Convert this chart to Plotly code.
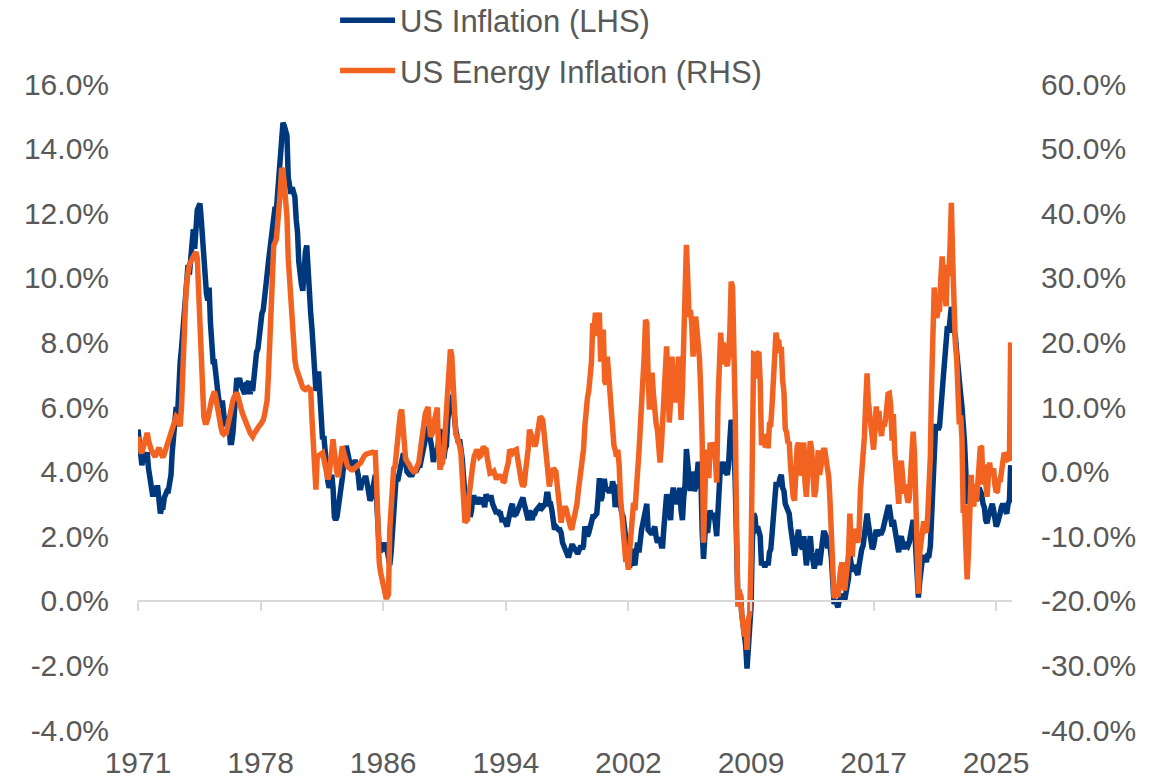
import plotly.graph_objects as go
import pandas as pd

start_month = "1971-01-01"

# US CPI inflation, % y/y, monthly from Jan 1971 (LHS)
us_inflation = [
    5.3, 5.0, 4.7, 4.2, 4.4, 4.6, 4.4, 4.6, 4.1, 3.8, 3.3, 3.3,   # 1971
    3.3, 3.5, 3.5, 3.5, 3.2, 2.7, 2.9, 2.9, 3.2, 3.4, 3.4, 3.4,   # 1972
    3.6, 3.9, 4.6, 5.1, 5.5, 6.0, 5.7, 7.4, 7.4, 7.8, 8.3, 8.7,   # 1973
    9.4, 10.0, 10.4, 10.1, 10.7, 10.9, 11.5, 10.9, 11.9, 12.1, 12.2, 12.3,  # 1974
    11.8, 11.2, 10.3, 10.2, 9.5, 9.3, 9.7, 8.6, 7.9, 7.4, 7.4, 6.9,  # 1975
    6.7, 6.3, 6.1, 6.0, 6.2, 5.9, 5.4, 5.7, 5.5, 5.5, 4.9, 4.9,   # 1976
    5.2, 6.0, 6.4, 6.9, 6.7, 6.9, 6.7, 6.6, 6.6, 6.4, 6.7, 6.7,   # 1977
    6.8, 6.4, 6.6, 6.5, 6.9, 7.4, 7.7, 7.8, 8.3, 8.9, 8.9, 9.0,   # 1978
    9.3, 9.9, 10.1, 10.5, 10.9, 10.9, 11.3, 11.8, 12.2, 12.1, 12.6, 13.3,  # 1979
    13.9, 14.2, 14.8, 14.7, 14.4, 14.4, 13.1, 12.9, 12.6, 12.8, 12.6, 12.5,  # 1980
    11.8, 11.4, 10.5, 10.0, 9.8, 9.6, 10.8, 10.8, 11.0, 10.1, 9.6, 8.9,  # 1981
    8.4, 7.6, 6.8, 6.5, 6.7, 7.1, 6.4, 5.9, 5.0, 5.1, 4.6, 3.8,   # 1982
    3.7, 3.5, 3.6, 3.9, 3.5, 2.6, 2.5, 2.6, 2.9, 2.9, 3.3, 3.8,   # 1983
    4.2, 4.6, 4.8, 4.6, 4.2, 4.2, 4.2, 4.3, 4.3, 4.3, 4.1, 3.9,   # 1984
    3.5, 3.5, 3.7, 3.7, 3.8, 3.8, 3.6, 3.3, 3.1, 3.2, 3.5, 3.8,   # 1985
    3.9, 3.1, 2.3, 1.6, 1.5, 1.8, 1.6, 1.6, 1.8, 1.5, 1.3, 1.1,   # 1986
    1.5, 2.1, 3.0, 3.8, 3.9, 3.7, 3.9, 4.3, 4.4, 4.5, 4.5, 4.4,   # 1987
    4.0, 3.9, 3.9, 3.9, 3.9, 4.0, 4.1, 4.0, 4.2, 4.2, 4.2, 4.4,   # 1988
    4.7, 4.8, 5.0, 5.1, 5.4, 5.2, 5.0, 4.7, 4.3, 4.5, 4.7, 4.6,   # 1989
    5.2, 5.3, 5.2, 4.7, 4.4, 4.7, 4.8, 5.6, 6.2, 6.3, 6.3, 6.1,   # 1990
    5.7, 5.3, 4.9, 4.9, 5.0, 4.7, 4.4, 3.8, 3.4, 2.9, 3.0, 3.1,   # 1991
    2.6, 2.8, 3.2, 3.2, 3.0, 3.1, 3.2, 3.1, 3.0, 3.2, 3.0, 2.9,   # 1992
    3.3, 3.2, 3.1, 3.2, 3.2, 3.0, 2.8, 2.8, 2.7, 2.8, 2.7, 2.7,   # 1993
    2.5, 2.5, 2.5, 2.4, 2.3, 2.5, 2.8, 2.9, 3.0, 2.6, 2.7, 2.7,   # 1994
    2.8, 2.9, 2.9, 3.1, 3.2, 3.0, 2.8, 2.6, 2.5, 2.8, 2.6, 2.5,   # 1995
    2.7, 2.7, 2.8, 2.9, 2.9, 2.8, 3.0, 2.9, 3.0, 3.0, 3.3, 3.3,   # 1996
    3.0, 3.0, 2.8, 2.5, 2.2, 2.3, 2.2, 2.2, 2.2, 2.1, 1.8, 1.7,   # 1997
    1.6, 1.4, 1.4, 1.4, 1.7, 1.7, 1.7, 1.6, 1.5, 1.5, 1.5, 1.6,   # 1998
    1.7, 1.6, 1.7, 2.3, 2.1, 2.0, 2.1, 2.3, 2.6, 2.6, 2.6, 2.7,   # 1999
    2.7, 3.2, 3.8, 3.1, 3.2, 3.7, 3.7, 3.4, 3.5, 3.4, 3.4, 3.4,   # 2000
    3.7, 3.5, 2.9, 3.3, 3.6, 3.2, 2.7, 2.7, 2.6, 2.1, 1.9, 1.6,   # 2001
    1.1, 1.1, 1.5, 1.6, 1.2, 1.1, 1.5, 1.8, 1.5, 2.0, 2.2, 2.4,   # 2002
    2.6, 3.0, 3.0, 2.2, 2.1, 2.1, 2.1, 2.2, 2.3, 2.0, 1.8, 1.9,   # 2003
    1.9, 1.7, 1.7, 2.3, 3.1, 3.3, 3.0, 2.7, 2.5, 3.2, 3.5, 3.3,   # 2004
    3.0, 3.0, 3.1, 3.5, 2.8, 2.5, 3.2, 3.6, 4.7, 4.3, 3.5, 3.4,   # 2005
    4.0, 3.6, 3.4, 3.5, 4.2, 4.3, 4.1, 3.8, 2.1, 1.3, 2.0, 2.5,   # 2006
    2.1, 2.4, 2.8, 2.6, 2.7, 2.7, 2.4, 2.0, 2.8, 3.5, 4.3, 4.1,   # 2007
    4.3, 4.0, 4.0, 3.9, 4.2, 5.0, 5.6, 5.4, 4.9, 3.7, 1.1, 0.1,   # 2008
    0.0, 0.2, -0.4, -0.7, -1.3, -1.4, -2.1, -1.5, -1.3, -0.2, 1.8, 2.7,  # 2009
    2.6, 2.1, 2.3, 2.2, 2.0, 1.1, 1.2, 1.1, 1.1, 1.2, 1.1, 1.5,   # 2010
    1.6, 2.1, 2.7, 3.2, 3.6, 3.6, 3.6, 3.8, 3.9, 3.5, 3.4, 3.0,   # 2011
    2.9, 2.9, 2.7, 2.3, 1.7, 1.7, 1.4, 1.7, 2.0, 2.2, 1.8, 1.7,   # 2012
    1.6, 2.0, 1.5, 1.1, 1.4, 1.8, 2.0, 1.5, 1.2, 1.0, 1.2, 1.5,   # 2013
    1.6, 1.1, 1.5, 2.0, 2.1, 2.1, 2.0, 1.7, 1.7, 1.7, 1.3, 0.8,   # 2014
    -0.1, 0.0, -0.1, -0.2, 0.0, 0.1, 0.2, 0.2, 0.0, 0.2, 0.5, 0.7,  # 2015
    1.4, 1.0, 0.9, 1.1, 1.0, 1.0, 0.8, 1.1, 1.5, 1.6, 1.7, 2.1,   # 2016
    2.5, 2.7, 2.4, 2.2, 1.9, 1.6, 1.7, 1.9, 2.2, 2.0, 2.2, 2.1,   # 2017
    2.1, 2.2, 2.4, 2.5, 2.8, 2.9, 2.9, 2.7, 2.3, 2.5, 2.2, 1.9,   # 2018
    1.6, 1.5, 1.9, 2.0, 1.8, 1.6, 1.8, 1.7, 1.7, 1.8, 2.1, 2.3,   # 2019
    2.5, 2.3, 1.5, 0.3, 0.1, 0.6, 1.0, 1.3, 1.4, 1.2, 1.2, 1.4,   # 2020
    1.4, 1.7, 2.6, 4.2, 5.0, 5.4, 5.4, 5.3, 5.4, 6.2, 6.8, 7.0,   # 2021
    7.5, 7.9, 8.5, 8.3, 8.6, 9.1, 8.5, 8.3, 8.2, 7.7, 7.1, 6.5,   # 2022
    6.4, 6.0, 5.0, 4.9, 4.0, 3.0, 3.2, 3.7, 3.7, 3.2, 3.1, 3.4,   # 2023
    3.1, 3.2, 3.5, 3.4, 3.3, 3.0, 2.9, 2.5, 2.4, 2.6, 2.7, 2.9,   # 2024
    3.0, 2.8, 2.4, 2.3, 2.4, 2.7, 2.7, 2.9, 3.0, 2.9, 2.8, 2.7,   # 2025
    3.0, 3.1, 4.2,                                                # 2026
]

# US energy CPI inflation, % y/y, monthly from Jan 1971 (RHS)
energy_inflation = [
    5.4, 4.0, 3.2, 2.9, 3.8, 5.0, 5.5, 6.0, 4.8, 3.8, 3.4, 3.0,   # 1971
    2.6, 2.3, 2.8, 3.3, 3.7, 3.0, 2.4, 2.2, 2.8, 3.5, 3.9, 4.6,   # 1972
    5.4, 6.2, 7.0, 7.6, 8.0, 8.5, 8.3, 7.7, 7.0, 10.0, 17.0, 22.0,  # 1973
    26.0, 29.5, 31.0, 32.0, 32.5, 33.0, 33.5, 34.0, 34.0, 33.0, 27.0, 20.0,  # 1974
    14.0, 10.0, 8.5, 7.6, 7.6, 8.2, 9.5, 10.5, 11.2, 11.8, 12.4, 11.5,  # 1975
    10.0, 8.8, 7.7, 6.8, 6.0, 5.8, 6.0, 6.0, 7.0, 8.2, 9.2, 10.2,  # 1976
    11.0, 11.6, 12.0, 12.2, 11.5, 10.5, 9.8, 9.2, 8.6, 8.0, 7.5, 7.0,  # 1977
    6.5, 6.0, 5.7, 5.4, 5.8, 6.2, 6.5, 6.8, 7.1, 7.3, 7.6, 8.0,   # 1978
    8.8, 9.8, 11.0, 15.0, 21.5, 28.0, 34.0, 35.0, 35.5, 36.0, 38.5, 40.5,  # 1979
    43.5, 47.0, 46.5, 44.5, 42.0, 39.5, 33.0, 29.0, 25.0, 21.5, 19.0, 17.3,  # 1980
    16.0, 15.3, 14.5, 13.8, 13.0, 13.0, 12.8, 12.7, 12.9, 13.0, 12.8, 12.7,  # 1981
    8.0, 3.4, 0.5, -2.8, 2.3, 2.5, 2.6, 2.8, 2.9, 2.0, 1.0, 0.0,   # 1982
    -1.2, -0.5, 1.5, 3.0, 5.0, 3.0, 1.0, -0.2, -0.8, 1.0, 2.5, 3.9,  # 1983
    3.0, 2.0, 1.2, 0.8, 0.6, 0.4, 0.3, 0.3, 0.5, 0.6, 0.8, 0.8,   # 1984
    1.0, 1.4, 1.8, 2.3, 2.5, 2.7, 2.8, 2.9, 2.9, 2.9, 3.0, 2.9,   # 1985
    2.9, -2.0, -10.0, -14.0, -15.5, -16.7, -17.5, -18.5, -19.4, -19.4, -19.0, -9.0,  # 1986
    -4.0, 0.3, 0.5, 0.8, 3.0, 6.0, 8.5, 9.0, 9.6, 6.0, 2.3, 2.0,  # 1987
    1.6, 1.4, 1.0, 0.5, 0.3, 0.0, -0.2, 0.5, 1.0, 1.4, 3.0, 5.0,  # 1988
    6.5, 8.0, 9.0, 9.5, 10.0, 7.5, 5.4, 5.8, 6.5, 8.0, 9.0, 9.9,  # 1989
    3.5, 0.3, 1.0, 1.4, 3.0, 6.5, 10.0, 15.0, 18.9, 18.9, 18.0, 12.0,  # 1990
    6.5, 5.8, 5.4, 4.8, 4.0, 2.9, 0.0, -4.0, -7.9, -7.6, -7.4, -4.0,  # 1991
    -1.5, -0.8, 1.0, 2.3, 3.0, 3.4, 3.0, 2.3, 2.5, 3.0, 3.9, 3.5,  # 1992
    3.4, 2.0, 1.0, -0.2, -0.1, -0.2, 0.0, -0.5, -1.2, -0.8, -0.5, -1.0,  # 1993
    -0.5, -1.7, -1.5, -0.2, 0.5, 1.5, 3.4, 3.0, 2.9, 3.2, 3.4, 3.4,  # 1994
    2.0, 0.5, -1.0, -1.7, -2.3, -2.0, 0.0, 1.4, 3.5, 6.5, 5.8, 5.4,  # 1995
    4.5, 3.9, 4.5, 6.0, 7.5, 8.5, 8.3, 8.0, 6.0, 3.9, 1.5, 0.0,   # 1996
    -2.3, -1.0, 0.3, 0.5, 0.3, 0.0, -2.0, -3.9, -6.0, -7.9, -6.5, -5.4,  # 1997
    -5.4, -6.0, -7.0, -7.9, -8.5, -9.0, -8.0, -7.0, -6.5, -5.0, -3.0, -1.2,  # 1998
    -1.2, 1.0, 3.4, 7.0, 10.7, 11.5, 12.5, 14.2, 17.0, 23.0, 22.0, 24.6,  # 1999
    21.0, 23.0, 24.6, 17.0, 19.4, 22.0, 14.0, 13.5, 17.8, 14.5, 10.7, 10.0,  # 2000
    6.5, 4.0, 3.4, 2.3, 3.4, 1.0, -3.9, -6.3, -8.0, -10.0, -14.0, -13.0,  # 2001
    -15.2, -12.0, -9.0, -7.9, -4.8, -6.0, -4.0, 0.0, 3.0, 6.5, 9.0, 11.6,  # 2002
    18.0, 23.5, 23.0, 15.0, 9.6, 12.0, 15.3, 12.0, 8.5, 7.5, 6.5, 3.5,  # 2003
    1.4, 4.0, 8.0, 12.0, 16.9, 19.4, 14.0, 7.6, 11.0, 17.8, 15.0, 10.7,  # 2004
    12.0, 13.0, 17.8, 13.0, 8.0, 13.0, 20.0, 24.6, 35.1, 30.0, 24.0, 25.0,  # 2005
    23.0, 17.8, 20.0, 24.0, 22.0, 20.0, 17.3, 12.0, 4.5, -11.0, -5.0, 3.4,  # 2006
    1.5, -1.0, 4.5, 2.0, 4.5, 4.0, 2.0, -1.7, 11.0, 15.0, 21.5, 17.8,  # 2007
    20.0, 17.0, 17.0, 16.3, 18.0, 22.0, 29.4, 28.6, 22.0, 9.5, -8.0, -20.9,  # 2008
    -18.3, -19.5, -22.0, -24.5, -25.5, -23.0, -27.6, -23.0, -22.0, -14.0, 2.6, 18.2,  # 2009
    18.1, 14.4, 18.3, 18.5, 14.0, 4.1, 5.1, 3.8, 3.8, 5.8, 3.6, 7.3,  # 2010
    7.3, 10.5, 15.5, 19.0, 21.5, 20.1, 20.4, 18.4, 19.3, 14.2, 12.3, 6.6,  # 2011
    6.1, 4.4, 4.6, 0.9, -2.3, -3.9, -4.5, 0.5, 3.9, 4.5, -0.5, -0.2,  # 2012
    1.7, 4.5, -1.7, -3.9, -0.5, 3.9, 4.7, 3.5, -3.1, -3.9, -3.0, 2.3,  # 2013
    3.3, -0.5, 0.5, 2.6, 3.3, 3.3, 1.6, -0.9, -0.9, -4.8, -9.8, -10.6,  # 2014
    -19.6, -18.8, -18.3, -19.4, -16.3, -15.0, -14.1, -15.0, -18.4, -17.1, -14.7, -12.6,  # 2015
    -6.5, -12.5, -12.6, -8.9, -10.1, -10.1, -11.0, -9.2, -2.9, 0.2, 1.1, 5.4,  # 2016
    10.8, 15.2, 10.9, 9.3, 8.0, 6.4, 3.4, 6.4, 10.1, 6.4, 9.4, 6.9,  # 2017
    5.5, 7.7, 7.0, 7.9, 11.7, 12.0, 12.1, 10.2, 4.8, 8.9, 3.1, -0.3,  # 2018
    -4.8, -5.0, -0.4, 1.7, -0.6, -3.4, -2.0, -4.4, -4.8, -4.2, -0.6, 3.4,  # 2019
    6.2, 2.8, -5.7, -17.7, -18.9, -12.6, -11.2, -9.0, -7.7, -9.2, -9.4, -7.0,  # 2020
    -3.6, 2.4, 13.2, 25.1, 28.5, 24.5, 23.8, 25.0, 24.8, 30.0, 33.3, 29.3,  # 2021
    27.0, 25.6, 32.0, 30.3, 34.6, 41.6, 32.9, 23.8, 19.8, 17.6, 13.1, 7.3,  # 2022
    8.7, 5.2, -6.4, -5.1, -11.7, -16.7, -12.5, -3.6, -0.5, -4.5, -5.4, -2.0,  # 2023
    -4.6, -1.9, 2.1, 3.9, 3.7, -2.0, 1.1, -3.9, -3.9, -1.0, 1.4, -0.5,  # 2024
    0.3, 0.5, -2.0, -3.2, -3.0, -1.0, -1.6, 0.2, 2.9, 2.9, 2.5, 2.9,  # 2025
    1.9, 2.0, 20.0,                                                   # 2026
]

tick_dates = ["1971-01-01", "1978-10-01", "1986-07-01", "1994-04-01",
              "2002-01-01", "2009-10-01", "2017-07-01", "2025-04-01"]
tick_labels = ["1971", "1978", "1986", "1994", "2002", "2009", "2017", "2025"]
x_range = ["1971-01-01", "2026-04-01"]

left_ticks = [-4, -2, 0, 2, 4, 6, 8, 10, 12, 14, 16]
right_ticks = [-40, -30, -20, -10, 0, 10, 20, 30, 40, 50, 60]

dates_cpi = pd.date_range(start_month, periods=len(us_inflation), freq="MS")
dates_energy = pd.date_range(start_month, periods=len(energy_inflation), freq="MS")

BLUE = "#00387D"
ORANGE = "#F26322"
GREY_TEXT = "#595959"
AXIS_GREY = "#D9D9D9"
FONT = "Liberation Sans, Arial, sans-serif"

fig = go.Figure()
fig.add_trace(go.Scatter(
    x=dates_cpi, y=us_inflation, mode="lines", name="US Inflation (LHS)",
    line=dict(color=BLUE, width=5.5), xaxis="x", yaxis="y", legendgroup="a",
))
fig.add_trace(go.Scatter(
    x=dates_energy, y=energy_inflation, mode="lines", name="US Energy Inflation (RHS)",
    line=dict(color=ORANGE, width=5.5), xaxis="x2", yaxis="y2", legendgroup="b",
))

zero_pos = (0 - left_ticks[0]) / (left_ticks[-1] - left_ticks[0])

fig.update_layout(
    width=1163, height=779,
    margin=dict(l=138, r=151, t=84, b=49, autoexpand=False),
    paper_bgcolor="white", plot_bgcolor="white",
    font=dict(family=FONT, size=30, color=GREY_TEXT),
    showlegend=True,
    legend=dict(
        x=0.2255, y=1.14, xanchor="left", yanchor="top",
        font=dict(size=31, color=GREY_TEXT, family=FONT),
        bgcolor="rgba(0,0,0,0)", tracegroupgap=7, itemwidth=55,
    ),
    xaxis=dict(
        type="date", range=x_range, tickvals=tick_dates, ticktext=tick_labels,
        showgrid=False, zeroline=False, showline=False, ticks="",
        tickfont=dict(size=30, color=GREY_TEXT), ticklabelstandoff=12,
    ),
    xaxis2=dict(
        type="date", range=x_range, tickvals=tick_dates, ticktext=tick_labels,
        overlaying="x", anchor="free", position=zero_pos, side="bottom",
        showgrid=False, zeroline=False, showline=True, linecolor=AXIS_GREY, linewidth=2,
        ticks="outside", ticklen=9, tickwidth=2, tickcolor=AXIS_GREY,
        showticklabels=False,
    ),
    yaxis=dict(
        range=[left_ticks[0], left_ticks[-1]], tickvals=left_ticks,
        ticktext=[f"{v:.1f}%" for v in left_ticks],
        showgrid=False, zeroline=False, showline=False, ticks="",
        tickfont=dict(size=30, color=GREY_TEXT), ticklabelstandoff=28,
    ),
    yaxis2=dict(
        range=[right_ticks[0], right_ticks[-1]], tickvals=right_ticks,
        ticktext=[f"{v:.1f}%" for v in right_ticks],
        overlaying="y", side="right", anchor="x2",
        showgrid=False, zeroline=False, showline=False, ticks="",
        tickfont=dict(size=30, color=GREY_TEXT), ticklabelstandoff=28,
    ),
)

fig.write_html(
    "out.html",
    config={"displayModeBar": False},
    post_script="document.body.style.margin='0px';document.body.style.overflow='hidden';",
)
